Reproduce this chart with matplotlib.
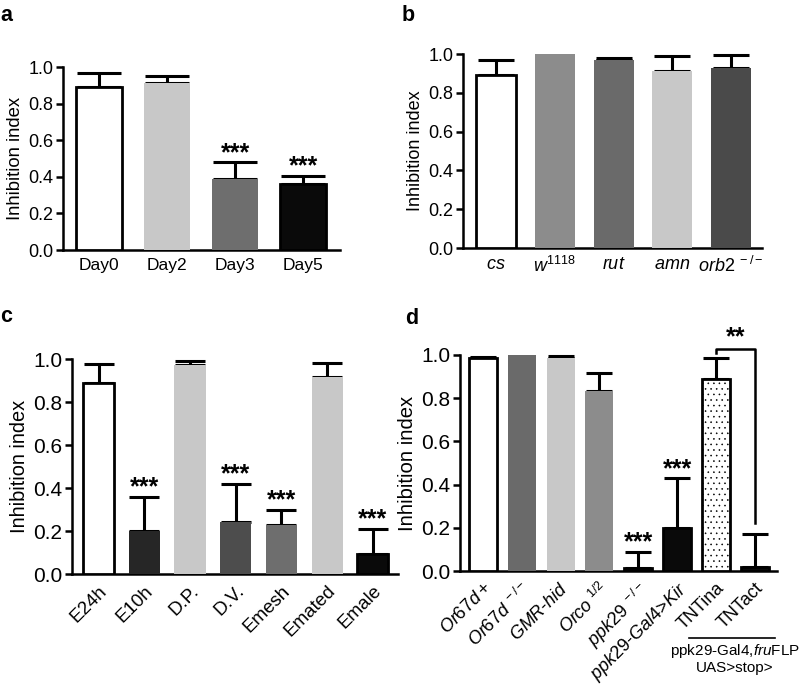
import matplotlib
matplotlib.use("Agg")
import matplotlib.pyplot as plt

plt.rcParams["font.family"] = ["Liberation Sans", "DejaVu Sans"]
plt.rcParams["mathtext.fontset"] = "custom"
plt.rcParams["mathtext.rm"] = "Liberation Sans"
plt.rcParams["mathtext.it"] = "Liberation Sans:italic"
plt.rcParams["hatch.linewidth"] = 0.4

# panel a
a_labels = ["Day0", "Day2", "Day3", "Day5"]
a_vals = [0.89, 0.91, 0.39, 0.36]
a_err = [0.08, 0.04, 0.09, 0.045]
a_colors = ["white", "#c8c8c8", "#6e6e6e", "#0a0a0a"]
a_stars = ["", "", "***", "***"]

# panel b
b_labels = [r"$\mathit{cs}$", r"$\mathit{w}^{\mathit{1118}}$", r"$\mathit{rut}$",
            r"$\mathit{amn}$", r"$\mathit{orb2}^{\ -/-}$"]
b_vals = [0.89, 1.0, 0.97, 0.91, 0.93]
b_err = [0.08, 0.0, 0.01, 0.08, 0.065]
b_colors = ["white", "#8c8c8c", "#6a6a6a", "#c8c8c8", "#4a4a4a"]

# panel c
c_labels = ["E24h", "E10h", "D.P.", "D.V.", "Emesh", "Emated", "Emale"]
c_vals = [0.89, 0.20, 0.97, 0.24, 0.23, 0.915, 0.095]
c_err = [0.085, 0.16, 0.02, 0.18, 0.07, 0.065, 0.115]
c_colors = ["white", "#262626", "#c8c8c8", "#4d4d4d", "#6e6e6e", "#c8c8c8", "#0a0a0a"]
c_stars = ["", "***", "", "***", "***", "", "***"]

# panel d
d_labels = [r"$\mathit{Or67d+}$", r"$\mathit{Or67d}^{\ -/-}$", r"$\mathit{GMR}$-$\mathit{hid}$",
            r"$\mathit{Orco}^{\ \mathit{1/2}}$", r"$\mathit{ppk29}^{\ -/-}$",
            r"$\mathit{ppk29}$-$\mathit{Gal4}$>$\mathit{Kir}$", "TNTina", "TNTact"]
d_vals = [0.985, 1.0, 0.988, 0.833, 0.012, 0.20, 0.887, 0.02]
d_err = [0.005, 0.0, 0.009, 0.082, 0.078, 0.23, 0.10, 0.15]
d_colors = ["white", "#6a6a6a", "#c8c8c8", "#8c8c8c", "#0a0a0a", "#0a0a0a", "white", "#0a0a0a"]
d_stars = ["", "", "", "", "***", "***", "", ""]


def bar_panel(ax, labels, vals, errs, colors, width, capsize, tick_fs, label_fs, xtick_fs,
              stars=None, rotation=0, xlim=None, hatches=None):
    x = list(range(len(vals)))
    for i, (v, c) in enumerate(zip(vals, colors)):
        edge = "black" if c in ("white", "#0a0a0a") else c
        lw = 2.0 if c in ("white", "#0a0a0a") else 0
        h = hatches[i] if hatches else None
        ax.bar(i, v, width=width, color=c, edgecolor=edge, linewidth=lw, hatch=h, zorder=3)
    for i, (v, e) in enumerate(zip(vals, errs)):
        if e > 0:
            ax.errorbar(i, v, yerr=[[0], [e]], fmt="none", ecolor="black",
                        elinewidth=2.2, capsize=capsize, capthick=2.2, zorder=2, clip_on=False)
    if stars:
        for i, (v, e, s) in enumerate(zip(vals, errs, stars)):
            if s:
                ax.annotate(s, (i, v + e), xytext=(0, -2), textcoords="offset points",
                            ha="center", va="bottom", fontsize=18, fontweight="bold")
    ax.set_ylim(0, 1.0)
    ax.set_xlim(*xlim)
    ax.set_yticks([0, 0.2, 0.4, 0.6, 0.8, 1.0])
    ax.set_yticklabels(["0.0", "0.2", "0.4", "0.6", "0.8", "1.0"], fontsize=tick_fs)
    ax.set_xticks(x)
    if rotation:
        ax.set_xticklabels(labels, rotation=rotation, ha="right", rotation_mode="anchor",
                           fontsize=xtick_fs)
    else:
        ax.set_xticklabels(labels, fontsize=xtick_fs)
    ax.set_ylabel("Inhibition index", fontsize=label_fs, labelpad=3)
    for s in ["top", "right"]:
        ax.spines[s].set_visible(False)
    for s in ["left", "bottom"]:
        ax.spines[s].set_linewidth(1.8)
    ax.tick_params(axis="y", width=1.8, length=5, pad=2)
    ax.tick_params(axis="x", length=0, pad=6)


fig = plt.figure(figsize=(8, 6.84), dpi=100)

ax_a = fig.add_axes([0.079, 0.6345, 0.346, 0.2675])
bar_panel(ax_a, a_labels, a_vals, a_err, a_colors, 0.68, 16, 13, 13.3, 12.5, a_stars,
          xlim=(-0.53, 3.54))

ax_b = fig.add_axes([0.579, 0.6374, 0.374, 0.2836])
bar_panel(ax_b, b_labels, b_vals, b_err, b_colors, 0.68, 13, 13, 13, 13, xlim=(-0.56, 4.53))

ax_c = fig.add_axes([0.09, 0.1608, 0.4075, 0.3143])
bar_panel(ax_c, c_labels, c_vals, c_err, c_colors, 0.68, 11, 15, 14.4, 13.5, c_stars,
          rotation=45, xlim=(-0.58, 6.55))

ax_d = fig.add_axes([0.575, 0.1652, 0.396, 0.3158])
bar_panel(ax_d, d_labels, d_vals, d_err, d_colors, 0.72, 9.5, 15, 14.6, 13, d_stars,
          rotation=45, xlim=(-0.59, 7.57),
          hatches=[None] * 6 + ["...", None])

# significance bracket between TNTina and TNTact
ax_d.plot([6, 6, 7, 7], [1.01, 1.028, 1.028, 0.22], color="black", lw=1.8,
          clip_on=False, zorder=4)
ax_d.text(6.5, 1.025, "**", ha="center", va="bottom", fontsize=18, fontweight="bold")

# genotype grouping under TNT bars
fig.add_artist(plt.Line2D([689 / 800, 775 / 800], [1 - 638 / 684] * 2, color="black", lw=1.2))
fig.text(735 / 800, 1 - 651 / 684, r"ppk29-Gal4,$\mathit{fru}$FLP", ha="center", va="center",
         fontsize=11)
fig.text(735 / 800, 1 - 668 / 684, "UAS>stop>", ha="center", va="center", fontsize=11)

for lbl, x, y in [("a", 0.0, 0.977), ("b", 0.502, 0.978), ("c", 0.0, 0.538), ("d", 0.507, 0.535)]:
    fig.text(x, y, lbl, fontsize=15.5, fontweight="bold", ha="left", va="center")

fig.savefig("out.png", dpi=100)
